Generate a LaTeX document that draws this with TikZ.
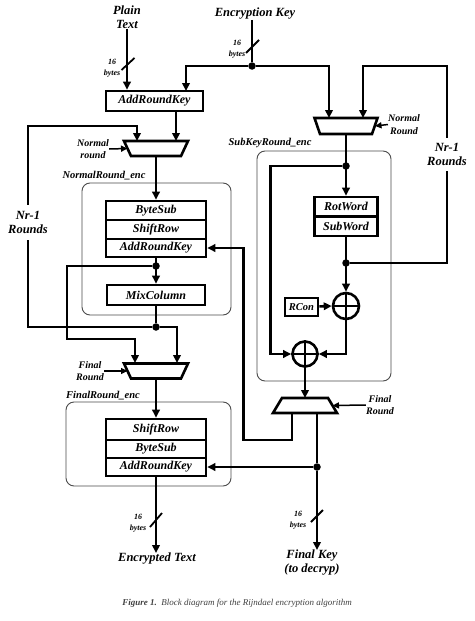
\documentclass[tikz,border=0pt]{standalone}
\usepackage{fontspec}
\setmainfont{Liberation Serif}
\usetikzlibrary{arrows.meta,calc}
\begin{document}
\begin{tikzpicture}[x=1pt,y=-1pt,
  font=\bfseries\itshape,
  wire/.style={line width=2.6pt},
  arr/.style={wire, -{Triangle[length=8pt,width=7.5pt]}},
  ctl/.style={line width=1.5pt, -{Triangle[length=6.5pt,width=6pt]}},
  blk/.style={draw, line width=2.6pt, minimum width=100pt, inner sep=0pt, font=\bfseries\itshape\fontsize{12}{12}\selectfont},
  grp/.style={draw=black!70, line width=0.9pt, rounded corners=8pt},
  grplbl/.style={font=\bfseries\itshape\fontsize{10.5}{12}\selectfont, inner sep=0pt},
  lbl/.style={font=\bfseries\itshape\fontsize{10}{12.5}\selectfont, align=center, inner sep=0pt},
  big/.style={font=\bfseries\itshape\fontsize{12.5}{14}\selectfont, align=center, inner sep=0pt},
  small/.style={font=\bfseries\itshape\fontsize{8}{11}\selectfont, align=center, inner sep=0pt},
  mux/.style={line width=2.6pt, line join=miter},
  jdot/.style={circle, fill, inner sep=0pt, minimum size=7.5pt},
  xorn/.style={circle, draw, line width=2.6pt, inner sep=0pt},
  slash/.style={line width=1.8pt}
]
\fill[white] (0,0) rectangle (474,621);
\useasboundingbox (0,0) rectangle (474,621);

% group frames
\draw[grp] (82,183) rectangle (231,315);
\node[grplbl] (nrlbl) at (104,176) {NormalRound\_enc};
\draw[grp] (257,151) rectangle (391,381);
\node[grplbl] (sklbl) at (270,143) {SubKeyRound\_enc};
\draw[grp] (66,402) rectangle (231,486);
\node[grplbl] (frlbl) at (103,396) {FinalRound\_enc};

% top inputs
\node[big] (plain) at (127,17) {Plain\\Text};
\node[big] (key) at (255,14) {Encryption Key};
\node[small] (b1) at (112,68.5) {16\\bytes};
\node[small] (b2) at (237,49) {16\\bytes};

% text path
\node[blk, minimum width=97pt, minimum height=20pt] (ark0) at (154.5,101) {AddRoundKey};
\coordinate (muxN) at (156,148.5);
\draw[mux] ($(muxN)+(-32,-7.5)$) -- ++(64,0) -- ++(-7,15) -- ++(-50,0) -- cycle;
\coordinate (nin1) at (137,141);
\coordinate (nin2) at (176,141);
\coordinate (nout) at (156,156);
\coordinate (nctl) at (127.5,148.5);
\node[lbl] (lN) at (93,149) {Normal\\round};

\node[blk, minimum height=19pt] (bs1) at (156,210.5) {ByteSub};
\node[blk, minimum height=19pt] (sr1) at (156,229.5) {ShiftRow};
\node[blk, minimum height=18pt] (ark1) at (156,248) {AddRoundKey};
\node[blk, minimum width=98pt, minimum height=20pt] (mix) at (156,295) {MixColumn};
\node[jdot] (d1) at (156,266) {};
\node[jdot] (d2) at (156,327) {};

\node[big, minimum height=35pt] (nrL) at (28,222.5) {Nr-1\\Rounds};

\coordinate (muxF) at (156,371);
\draw[mux] ($(muxF)+(-32,-7.5)$) -- ++(64,0) -- ++(-7,15) -- ++(-50,0) -- cycle;
\coordinate (fin1) at (135,363);
\coordinate (fin2) at (177,363);
\coordinate (fout) at (156,379);
\coordinate (fctl) at (127.5,371);
\node[lbl] (lF) at (90,371) {Final\\Round};

\node[blk, minimum height=21pt] (sr2) at (156,429.5) {ShiftRow};
\node[blk, minimum height=18pt] (bs2) at (156,449) {ByteSub};
\node[blk, minimum height=18pt] (ark2) at (156,467) {AddRoundKey};

\node[big, anchor=north] (enc) at (157,553) {Encrypted Text};
\node[small] (b3) at (138,523.5) {16\\bytes};

% key path
\node[jdot] (kd) at (252,66) {};
\coordinate (muxK) at (346,126);
\draw[mux] ($(muxK)+(-31.5,-8)$) -- ++(63,0) -- ++(-5.5,16) -- ++(-52,0) -- cycle;
\coordinate (kin1) at (329,118);
\coordinate (kin2) at (363,118);
\coordinate (kout) at (346,134);
\coordinate (kctl) at (375,126);
\node[lbl] (lK) at (404,124.5) {Normal\\Round};
\coordinate (a0k) at (186,91);

\node[jdot] (kd2) at (346,166) {};
\node[blk, minimum width=63pt, minimum height=19.5pt] (rot) at (346,206.75) {RotWord};
\node[blk, minimum width=63pt, minimum height=19.5pt] (sub) at (346,226.25) {SubWord};
\node[jdot] (kd3) at (346,263) {};
\node[xorn, minimum size=26pt] (xu) at (346,306) {};
\node[blk, minimum width=33pt, minimum height=18pt, font=\bfseries\itshape\fontsize{10.5}{12}\selectfont] (rcon) at (301.5,307) {RCon};
\node[xorn, minimum size=25pt] (xl) at (305,354) {};

\node[big, minimum height=33pt] (nrR) at (447,154.5) {Nr-1\\Rounds};

\coordinate (muxFK) at (305,405.5);
\draw[mux] ($(muxFK)+(-23,-7.5)$) -- ++(46,0) -- ++(9,15) -- ++(-64,0) -- cycle;
\coordinate (fkin) at (305,398);
\coordinate (fko1) at (292,413);
\coordinate (fko2) at (317,413);
\coordinate (fkctl) at (332.5,405.5);
\node[lbl] (lFK) at (380,405) {Final\\Round};
\node[jdot] (kd4) at (317,467) {};

\node[big, anchor=north] (fkey) at (312,550) {Final Key\\(to decryp)};
\node[small] (b4) at (298,520.5) {16\\bytes};

% caption
\node[font=\normalfont\itshape\fontsize{9}{10}\selectfont, text=black!75, inner sep=0pt] (cap) at (237,603) {\textbf{Figure 1.}\ \ Block diagram for the Rijndael encryption algorithm};

% ---- wires: text path
\draw[arr] (plain.south) -- (plain.south |- ark0.north);
\draw[wire] (key.south -| kd) -- (kd);
\draw[arr] (kd) -| (a0k);
\draw[arr] (kd) -| (kin1);
\draw[arr] (ark0.south -| nin2) -- (nin2);
\draw[arr] (nout) -- (bs1.north);
\draw[arr] (ark1.south) -- (mix.north);
\draw[wire] (mix.south) -- (d2);
\draw[wire] (d2) -| (nrL.south);
\draw[arr] (nrL.north) |- ($(nin1)+(0,-15)$) -- (nin1);
\draw[arr] (d2) -| (fin2);
\draw[arr] (d1) -| ($(fin1)+(-68,-24)$) -| (fin1);
\draw[arr] (fout) -- (sr2.north);
\draw[arr] (ark2.south) -- (ark2.south |- enc.north);
\draw[ctl] (lN.east) -- (nctl);
\draw[ctl] (lF.east) -- (fctl);

% ---- wires: key path
\draw[arr] (kout) -- (rot.north);
\draw[arr] (kd2) -| ($(xl.west)+(-20.5,0)$) -- (xl.west);
\draw[arr] (sub.south) -- (xu.north);
\draw[arr] (rcon) -- (xu.west);
\draw[arr] (xu.south) |- (xl.east);
\draw[arr] (xl.south) -- (fkin);
\draw[wire] (kd3) -| (nrR.south);
\draw[arr] (nrR.north) |- ($(kin2)+(0,-52)$) -- (kin2);
\draw[arr] (fko1) |- ($(ark1.east)+(36,192)$) |- (ark1.east);
\draw[wire] (fko2) -- (kd4);
\draw[arr] (kd4) -- (ark2.east);
\draw[arr] (kd4) -- (kd4 |- fkey.north);
\draw[ctl] (lK.west) -- (kctl);
\draw[ctl] (lFK.west) -- (fkctl);

% XOR crosses
\draw[wire] (xu.north) -- (xu.south) (xu.west) -- (xu.east);
\draw[wire] (xl.north) -- (xl.south) (xl.west) -- (xl.east);

% bus width marks
\draw[slash] (121.5,70) -- (134.5,58);
\draw[slash] (246,53) -- (259,40);
\draw[slash] (150,527) -- (162,513);
\draw[slash] (311,522) -- (323,510);
\end{tikzpicture}
\end{document}
